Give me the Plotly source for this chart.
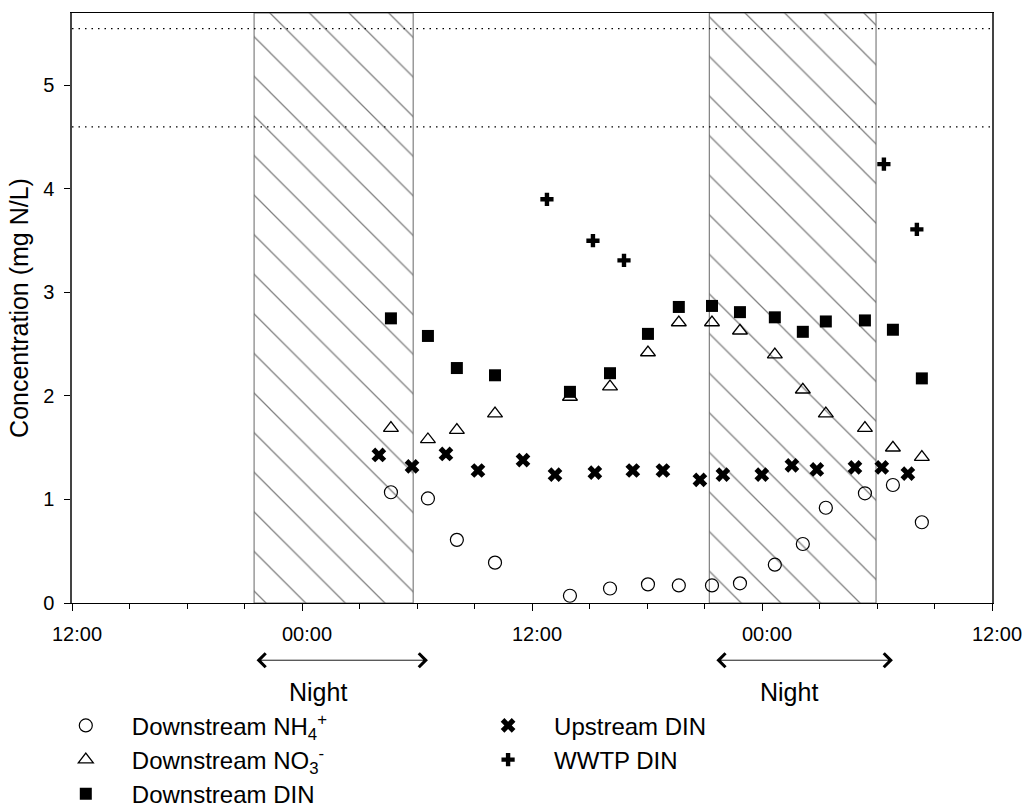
import plotly.graph_objects as go

# ---- data (hours elapsed since 12:00 on day 1) ----
t_down = [16.64, 18.57, 20.08, 22.07, 25.98, 28.07, 30.05, 31.66, 33.39, 34.85,
          36.67, 38.13, 39.33, 41.37, 42.83, 44.34]
nh4 = [1.07, 1.01, 0.61, 0.39, 0.07, 0.14, 0.18, 0.17, 0.17, 0.19,
       0.37, 0.57, 0.92, 1.06, 1.14, 0.78]
no3 = [1.69, 1.58, 1.67, 1.83, 1.99, 2.09, 2.42, 2.71, 2.71, 2.63,
       2.40, 2.06, 1.83, 1.69, 1.50, 1.41]
din = [2.75, 2.58, 2.27, 2.20, 2.04, 2.22, 2.60, 2.86, 2.87, 2.81,
       2.76, 2.62, 2.72, 2.73, 2.64, 2.17]

t_up = [16.01, 17.74, 19.51, 21.18, 23.53, 25.20, 27.28, 29.26, 30.83, 32.76,
        33.96, 35.99, 37.56, 38.86, 40.85, 42.25, 43.61]
up_din = [1.43, 1.32, 1.44, 1.28, 1.38, 1.24, 1.26, 1.28, 1.28, 1.19,
          1.24, 1.24, 1.33, 1.29, 1.31, 1.31, 1.25]

t_wwtp = [24.78, 27.18, 28.80, 42.36, 44.08]
wwtp_din = [3.90, 3.50, 3.31, 4.24, 3.61]

night_bands = [(9.5, 17.8), (33.25, 41.95)]
night_arrows = [(9.55, 18.57), (33.54, 42.83)]
night_labels = ["Night", "Night"]
night_label_t = [12.85, 37.4]
ref_levels = [5.55, 4.60]

tick_vals = [0, 12, 24, 36, 48]
tick_text = ["12:00", "00:00", "12:00", "00:00", "12:00"]

Y_MAX = 5.7
FONT = "Liberation Sans, Arial, sans-serif"

fig = go.Figure()

# hatched night bands
for (a, b) in night_bands:
    fig.add_trace(go.Scatter(
        x=[a, b, b, a, a], y=[0, 0, Y_MAX, Y_MAX, 0],
        mode="lines", fill="toself", fillcolor="rgba(0,0,0,0)",
        fillpattern=dict(shape="\\", size=28, solidity=0.045,
                         fgcolor="#000000", bgcolor="rgba(255,255,255,0)"),
        line=dict(color="#666666", width=1),
        hoverinfo="skip", showlegend=False))

fig.add_trace(go.Scatter(
    x=t_down, y=nh4, mode="markers", name="Downstream NH<sub>4</sub><sup>+</sup>",
    marker=dict(symbol="circle-open", size=13, color="black", line=dict(width=1.2)),
    legend="legend"))
fig.add_trace(go.Scatter(
    x=t_down, y=no3, mode="markers", name="Downstream NO<sub>3</sub><sup>-</sup>",
    marker=dict(symbol="triangle-up-open", size=13, color="black", line=dict(width=1.3)),
    legend="legend"))
fig.add_trace(go.Scatter(
    x=t_down, y=din, mode="markers", name="Downstream DIN",
    marker=dict(symbol="square", size=12, color="black"),
    legend="legend"))
fig.add_trace(go.Scatter(
    x=t_up, y=up_din, mode="markers", name="Upstream DIN",
    marker=dict(symbol="x", size=13, color="black"),
    legend="legend2"))
fig.add_trace(go.Scatter(
    x=t_wwtp, y=wwtp_din, mode="markers", name="WWTP DIN",
    marker=dict(symbol="cross", size=11, color="black"),
    legend="legend2"))

# dotted reference levels
for lv in ref_levels:
    fig.add_shape(type="line", xref="paper", x0=0, x1=1, yref="y", y0=lv, y1=lv,
                  line=dict(color="black", width=1.2, dash="1.5px,5px"), layer="above")

# night arrows and labels
for (a, b), lab, lt in zip(night_arrows, night_labels, night_label_t):
    fig.add_annotation(x=b, y=-0.097, xref="x", yref="paper",
                       ax=a, ay=0, axref="x", ayref="pixel",
                       text="", showarrow=True, arrowhead=4, startarrowhead=4,
                       arrowside="end+start", arrowsize=3, startarrowsize=3,
                       arrowwidth=0.9, arrowcolor="black")
    fig.add_annotation(x=lt, y=-0.151, xref="x", yref="paper", yanchor="middle",
                       text=lab, showarrow=False,
                       font=dict(size=25, color="black", family=FONT))

fig.update_layout(
    width=1026, height=811,
    margin=dict(l=72, r=34, t=13, b=208, autoexpand=False),
    paper_bgcolor="white", plot_bgcolor="white",
    font=dict(family=FONT, color="black"),
    xaxis=dict(range=[0, 48], tickmode="array", tickvals=tick_vals, ticktext=tick_text,
               ticks="outside", ticklen=7, tickwidth=1, tickcolor="black",
               minor=dict(tickmode="linear", tick0=0, dtick=3, ticks="outside",
                          ticklen=5, tickcolor="black", showgrid=False),
               showline=True, linecolor="black", linewidth=1.2, mirror=True,
               showgrid=False, zeroline=False,
               tickfont=dict(size=20), ticklabelstandoff=6, ticklabelshift=5),
    yaxis=dict(range=[0, Y_MAX], tickmode="linear", tick0=0, dtick=1,
               ticks="outside", ticklen=6, tickcolor="black",
               showline=True, linecolor="#444444", linewidth=1.5, mirror=True,
               showgrid=False, zeroline=False,
               tickfont=dict(size=20), ticklabelstandoff=6,
               title=dict(text="Concentration (mg N/L)", font=dict(size=25), standoff=7)),
    legend=dict(x=-0.035, y=-0.170, xanchor="left", yanchor="top",
                font=dict(size=24), bgcolor="rgba(0,0,0,0)", itemwidth=82),
    legend2=dict(x=0.424, y=-0.170, xanchor="left", yanchor="top",
                 font=dict(size=24), bgcolor="rgba(0,0,0,0)", itemwidth=82),
)

fig.write_html("out.html")
